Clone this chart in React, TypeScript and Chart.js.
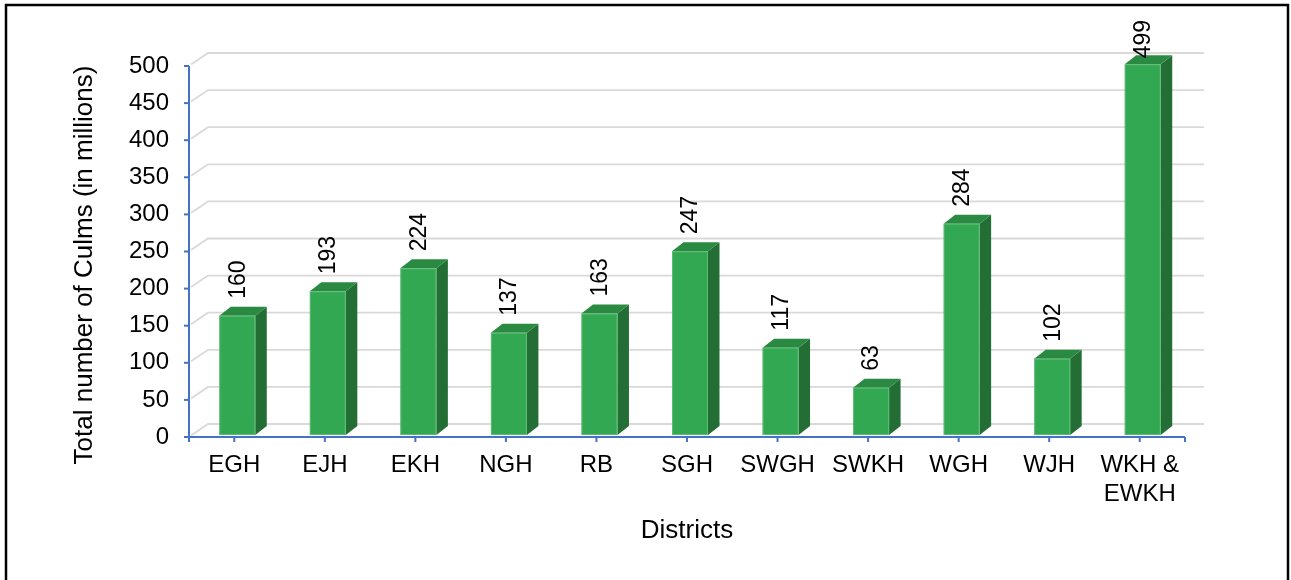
import React, { useEffect, useRef } from "react";
import { Chart, registerables } from "chart.js";

Chart.register(...registerables);

const districts: (string | string[])[] = ["EGH", "EJH", "EKH", "NGH", "RB", "SGH", "SWGH", "SWKH", "WGH", "WJH", ["WKH &", "EWKH"]];
const culms: number[] = [160, 193, 224, 137, 163, 247, 117, 63, 284, 102, 499];
const yTitle = "Total number of Culms (in millions)";
const xTitle = "Districts";

const FONT = "'Liberation Sans', Arial, sans-serif";
const FRONT = "#33A852";
const TOP = "#2A8A42";
const SIDE = "#226E34";
const AXIS = "#4472C4";
const GRID = "#D9D9D9";

const bar3d = {
  id: "bar3d",
  beforeDraw(chart: any) {
    const { ctx, scales } = chart;
    const y = scales.y;
    const x = scales.x;
    ctx.save();
    ctx.fillStyle = "#ffffff";
    ctx.fillRect(0, 0, chart.width, chart.height);
    ctx.strokeStyle = "#000000";
    ctx.lineWidth = 2.5;
    ctx.strokeRect(6, 5, chart.width - 9, chart.height + 20);
    // back-wall gridlines
    const bdx = 19, bdy = -13;
    ctx.strokeStyle = GRID;
    ctx.lineWidth = 1.8;
    y.ticks.forEach((t: any) => {
      const py = y.getPixelForValue(t.value);
      ctx.beginPath();
      ctx.moveTo(x.left + 2, py - 1.5);
      ctx.lineTo(x.left + bdx, py + bdy);
      ctx.lineTo(x.right + bdx, py + bdy);
      ctx.stroke();
    });
    // y axis title
    ctx.save();
    ctx.translate(85, 265);
    ctx.rotate(-Math.PI / 2);
    ctx.font = `26px ${FONT}`;
    ctx.fillStyle = "#000000";
    ctx.textAlign = "center";
    ctx.textBaseline = "middle";
    ctx.fillText(yTitle, 0, 0);
    ctx.restore();
    ctx.restore();
  },
  afterDatasetsDraw(chart: any) {
    const { ctx, scales } = chart;
    const y = scales.y;
    const x = scales.x;
    const meta = chart.getDatasetMeta(0);
    const data = chart.data.datasets[0].data as number[];
    const dx = 11.5, dy = -9, half = 18, shift = 3;
    ctx.save();
    meta.data.forEach((el: any, i: number) => {
      const cx = el.x + shift;
      const top = y.getPixelForValue(data[i]) - 2.5;
      const bot = y.getPixelForValue(0) - 2;
      const l = cx - half, r = cx + half;
      // side
      ctx.fillStyle = SIDE;
      ctx.beginPath();
      ctx.moveTo(r, top);
      ctx.lineTo(r + dx, top + dy);
      ctx.lineTo(r + dx, bot + dy);
      ctx.lineTo(r, bot);
      ctx.closePath();
      ctx.fill();
      // top
      ctx.fillStyle = TOP;
      ctx.beginPath();
      ctx.moveTo(l, top);
      ctx.lineTo(l + dx, top + dy);
      ctx.lineTo(r + dx, top + dy);
      ctx.lineTo(r, top);
      ctx.closePath();
      ctx.fill();
      // front
      ctx.fillStyle = FRONT;
      ctx.fillRect(l, top, r - l, bot - top);
      ctx.strokeStyle = "rgba(120,200,140,0.6)";
      ctx.lineWidth = 1;
      ctx.strokeRect(l + 0.5, top + 0.5, r - l - 1, bot - top - 1);
      // label
      ctx.font = `23px ${FONT}`;
      ctx.fillStyle = "#000000";
      const txt = String(data[i]);
      const w = ctx.measureText(txt).width;
      let start = top - 17;
      if (start - w < 20) start = 20 + w;
      ctx.save();
      ctx.translate(cx + 1, start);
      ctx.rotate(-Math.PI / 2);
      ctx.textAlign = "left";
      ctx.textBaseline = "middle";
      ctx.fillText(txt, 0, 0);
      ctx.restore();
    });
    // axes
    ctx.strokeStyle = AXIS;
    ctx.lineWidth = 2;
    ctx.beginPath();
    ctx.moveTo(x.left, y.top);
    ctx.lineTo(x.left, y.bottom);
    ctx.lineTo(x.right, y.bottom);
    ctx.stroke();
    y.ticks.forEach((t: any) => {
      const py = y.getPixelForValue(t.value);
      ctx.beginPath();
      ctx.moveTo(x.left - 5, py);
      ctx.lineTo(x.left, py);
      ctx.stroke();
    });
    const xt: number[] = [x.left, x.right];
    x.ticks.forEach((_t: any, i: number) => xt.push(x.getPixelForTick(i)));
    xt.forEach((px) => {
      ctx.beginPath();
      ctx.moveTo(px, y.bottom);
      ctx.lineTo(px, y.bottom + 5);
      ctx.stroke();
    });
    ctx.restore();
  },
};

export default function App() {
  const ref = useRef<HTMLCanvasElement | null>(null);
  useEffect(() => {
    document.body.style.margin = "0";
    const canvas = ref.current!;
    const chart = new Chart(canvas, {
      type: "bar",
      data: {
        labels: districts,
        datasets: [
          {
            data: culms,
            backgroundColor: "rgba(0,0,0,0)",
            borderWidth: 0,
          },
        ],
      },
      plugins: [bar3d],
      options: {
        responsive: false,
        animation: false,
        devicePixelRatio: 1,
        layout: { padding: { left: 0, top: 66, right: 106, bottom: 0 } },
        plugins: { legend: { display: false }, tooltip: { enabled: false } },
        scales: {
          y: {
            min: 0,
            max: 500,
            ticks: { stepSize: 50, padding: 20, color: "#000", font: { size: 24, family: FONT } },
            grid: { display: false, drawTicks: false },
            border: { display: false },
            title: { display: false, text: yTitle },
            afterFit: (s: any) => {
              s.width = 189;
            },
          },
          x: {
            offset: true,
            ticks: { padding: 14, color: "#000", maxRotation: 0, autoSkip: false, font: { size: 24, family: FONT, lineHeight: 1.2 } },
            grid: { display: false, drawTicks: false },
            border: { display: false },
            title: {
              display: true,
              text: xTitle,
              color: "#000",
              font: { size: 26, family: FONT },
              padding: { top: 0, bottom: 34 },
            },
            afterFit: (s: any) => {
              s.height = 143;
            },
          },
        },
      },
    });
    return () => chart.destroy();
  }, []);
  return <canvas ref={ref} width={1291} height={580} style={{ display: "block", width: 1291, height: 580 }} />;
}
